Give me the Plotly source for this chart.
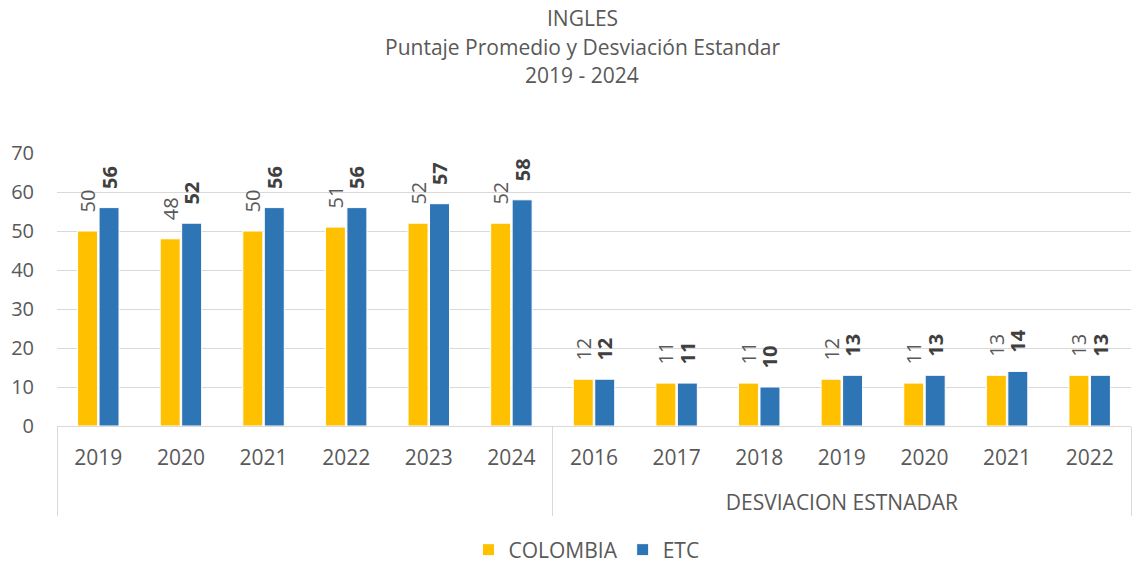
import plotly.graph_objects as go

grupos = [""] * 6 + ["<br>DESVIACION ESTNADAR"] * 7
# los años del segundo grupo llevan un espacio de ancho cero para que
# plotly no los reordene segun el primer grupo
anios = ["2019", "2020", "2021", "2022", "2023", "2024",
         "2016", "2017", "2018", "2019\u200b", "2020\u200b", "2021\u200b", "2022\u200b"]
colombia = [50, 48, 50, 51, 52, 52, 12, 11, 11, 12, 11, 13, 13]
etc = [56, 52, 56, 56, 57, 58, 12, 11, 10, 13, 13, 14, 13]
titulo = ["INGLES", "Puntaje Promedio y Desviación Estandar", "2019 - 2024"]

gris = "#595959"
fuente = "'Open Sans', 'Noto Sans', sans-serif"
hueco = "\u00a0\u00a0\u00a0"  # separa la etiqueta del borde de la barra

fig = go.Figure()

fig.add_trace(go.Bar(
    x=[grupos, anios],
    y=colombia,
    name="COLOMBIA",
    marker=dict(color="#FFC000", line=dict(color="white", width=1)),
    texttemplate=hueco + "%{y}",
    textposition="outside",
    textangle=-90,
    constraintext="none",
    textfont=dict(size=20, color=gris),
    cliponaxis=False,
))

fig.add_trace(go.Bar(
    x=[grupos, anios],
    y=etc,
    name="ETC",
    marker=dict(color="#2E75B6", line=dict(color="white", width=1)),
    texttemplate=hueco + "<b>%{y}</b>",
    textposition="outside",
    textangle=-90,
    constraintext="none",
    textfont=dict(size=20, color="#404040"),
    cliponaxis=False,
))

# titulo en tres lineas; area de trazado entre y=153 y y=426 px
for i, linea in enumerate(titulo):
    fig.add_annotation(
        text=linea, xref="paper", yref="paper",
        x=0.489, y=(426 - (18 + 28.5 * i)) / 273,
        xanchor="center", yanchor="middle", showarrow=False,
        font=dict(size=21, color=gris),
    )

fig.update_layout(
    width=1133,
    height=565,
    paper_bgcolor="white",
    plot_bgcolor="white",
    font=dict(family=fuente, color=gris, size=21),
    barmode="group",
    bargap=0.48,
    bargroupgap=0.07,
    margin=dict(l=57, r=2, t=153, b=139, autoexpand=False),
    showlegend=True,
    legend=dict(
        orientation="h",
        x=0.493, xanchor="center",
        yref="container", y=15 / 565, yanchor="middle",
        font=dict(size=21, color=gris),
    ),
)

fig.update_yaxes(
    range=[0, 70],
    dtick=10,
    showgrid=True,
    gridcolor="#D9D9D9",
    gridwidth=1,
    zeroline=False,
    tickfont=dict(size=20, color=gris),
    ticklabelstandoff=22,
    ticks="",
)

fig.update_xaxes(
    showline=True,
    linecolor="#D9D9D9",
    linewidth=1,
    tickfont=dict(size=21, color=gris),
    ticklabelstandoff=13,
    showdividers=True,
    dividercolor="#D9D9D9",
    dividerwidth=1,
)

fig.write_html("out.html", config={"displayModeBar": False},
               post_script="document.body.style.margin='0';")
